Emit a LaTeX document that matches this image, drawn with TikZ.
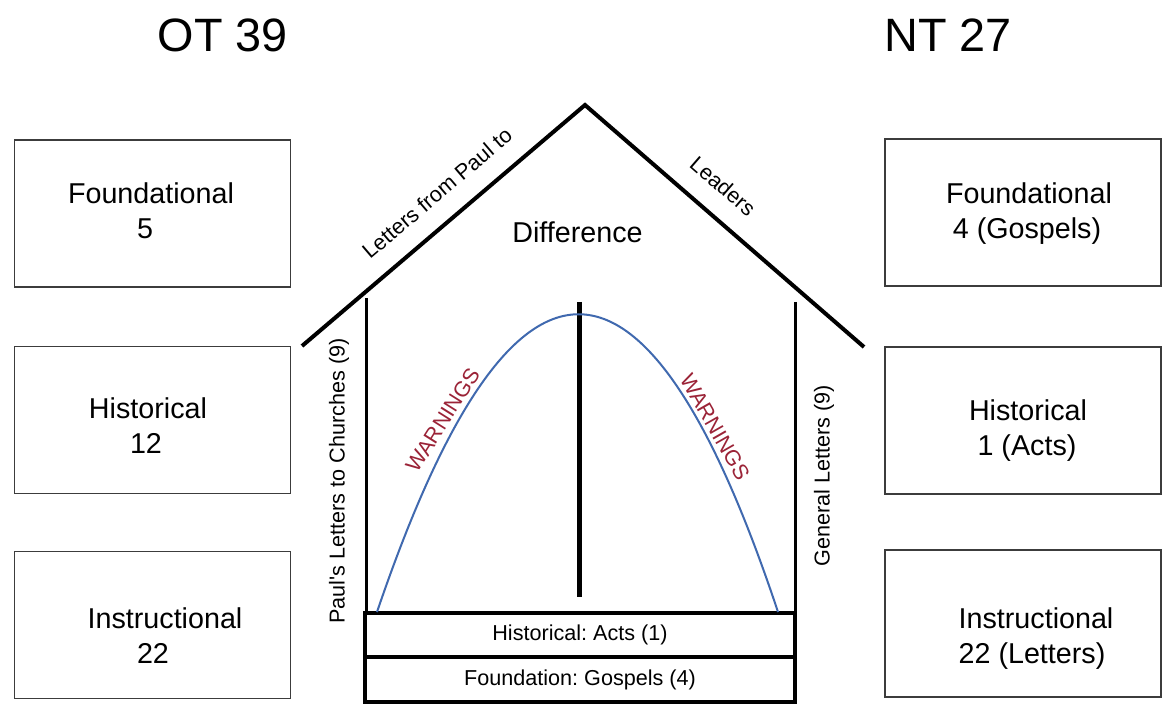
\documentclass[tikz,border=0pt]{standalone}
\usepackage{fontspec}
\setmainfont{Liberation Sans}
\frenchspacing
\definecolor{curveblue}{RGB}{64,105,175}
\definecolor{warnred}{RGB}{155,35,55}
\definecolor{boxgray}{RGB}{60,60,60}
\begin{document}
\begin{tikzpicture}[x=1pt,y=-1pt,
  box/.style={draw=boxgray,line width=1.8pt,minimum width=276pt,minimum height=147pt,inner sep=0pt},
  big/.style={font=\fontsize{46.8}{56}\selectfont,inner sep=0pt,anchor=base},
  boxtext/.style={font=\fontsize{28.7}{34}\selectfont,inner sep=0pt,anchor=base},
  small/.style={font=\fontsize{21.6}{26}\selectfont,inner sep=0pt},
  warn/.style={small,text=warnred},
  roofline/.style={line width=4pt,line join=miter},
  wall/.style={line width=3pt},
  post/.style={line width=5pt},
  basebox/.style={draw,line width=4.5pt,minimum width=430pt,inner sep=0pt,font=\fontsize{21.6}{26}\selectfont},
  arc/.style={draw=curveblue,line width=2pt}
]
\useasboundingbox[fill=white] (0,0) rectangle (1175,719);

% titles
\node[big] (ot) at (223,51.8) {OT 39};
\node[big] (nt) at (948,51.8) {NT 27};

% left boxes
\node[box] (otf) at (152.5,213.5) {};
\node[box] (oth) at (152.5,420) {};
\node[box] (oti) at (152.5,625) {};
\node[boxtext] (otf1) at (151,203.5) {Foundational};
\node[boxtext] (otf2) at (145,238.5) {5};
\node[boxtext] (oth1) at (148,418.5) {Historical};
\node[boxtext] (oth2) at (146,453.5) {12};
\node[boxtext] (oti1) at (165,628.5) {Instructional};
\node[boxtext] (oti2) at (153,663.5) {22};

% right boxes
\node[box] (ntf) at (1023,212.5) {};
\node[box] (nth) at (1023,420.5) {};
\node[box] (nti) at (1023,623.5) {};
\node[boxtext] (ntf1) at (1029,203.5) {Foundational};
\node[boxtext] (ntf2) at (1027,238.5) {4 (Gospels)};
\node[boxtext] (nth1) at (1028,420.5) {Historical};
\node[boxtext] (nth2) at (1027,455.5) {1 (Acts)};
\node[boxtext] (nti1) at (1036,628.5) {Instructional};
\node[boxtext] (nti2) at (1032,663.5) {22 (Letters)};

% roof
\coordinate (roofL) at (302,346);
\coordinate (apex) at (585,105);
\coordinate (roofR) at (864,347);
\draw[roofline] (roofL) -- (apex) -- (roofR);

% base boxes
\node[basebox,minimum height=44pt] (acts) at (580,635) {Historical: Acts (1)};
\node[basebox,minimum height=45pt] (gosp) at (580,679.5) {Foundation: Gospels (4)};

% walls and post
\draw[wall] (366,298) -- (366,613);
\draw[wall] (795,302) -- (795,613);
\draw[post] (579,302) -- (579,597);

% curve
\draw[arc] (377,612) .. controls (512,215) and (646,215) .. (778,612);

% labels
\node[boxtext,anchor=center] (diff) at (577.5,232) {Difference};
\node[small,rotate=40.4] (lfp) at (437,193) {Letters from Paul to};
\node[small,rotate=-40.9] (lead) at (723,186) {Leaders};
\node[warn,rotate=57.7] (warnL) at (443,420) {WARNINGS};
\node[warn,rotate=-60.3] (warnR) at (715,427) {WARNINGS};
\node[small,rotate=90] (pauls) at (339,481) {Paul\textquotesingle s Letters to Churches (9)};
\node[small,rotate=90] (gen) at (824,476) {General Letters (9)};
\end{tikzpicture}
\end{document}
